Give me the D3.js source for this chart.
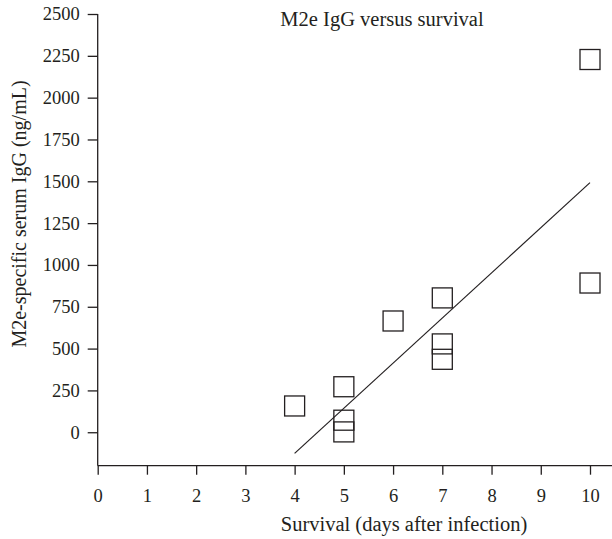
<!DOCTYPE html>
<html><head><meta charset="utf-8">
<script src="https://cdn.jsdelivr.net/npm/d3@7"></script>
<style>body{margin:0;background:#fff}svg text{font-family:"Liberation Serif","DejaVu Serif",serif !important;fill:#231f20}</style>
</head><body>
<svg id="c" width="612" height="539"></svg>
<script>
const survivalDays = [4, 5, 5, 5, 6, 7, 7, 7, 10, 10];
const iggValues = [157, 272, 72, 2, 665, 803, 528, 436, 2228, 892];
const fitLine = [{x: 4, y: -126}, {x: 10, y: 1492}];
const xTicks = [0,1,2,3,4,5,6,7,8,9,10];
const yTicks = [0,250,500,750,1000,1250,1500,1750,2000,2250,2500];

const svg = d3.select("#c");
const x = d3.scaleLinear().domain([0, 10]).range([97.7, 590]);
const y = d3.scaleLinear().domain([-200, 2500]).range([465.7, 14]);
const col = "#231f20";

const xa = svg.append("g").attr("transform", `translate(0,${y(-200)})`)
  .call(d3.axisBottom(x).tickValues(xTicks).tickFormat(d3.format("d")).tickSize(9).tickPadding(14).tickSizeOuter(0));
xa.select(".domain").attr("d", `M${x(0)},0H612`);
const ya = svg.append("g").attr("transform", `translate(${x(0)},0)`)
  .call(d3.axisLeft(y).tickValues(yTicks).tickFormat(d3.format("d")).tickSize(10).tickPadding(8).tickSizeOuter(0));
ya.select(".domain").attr("d", `M0,${y(2500)}V${y(-200)}`);
svg.selectAll(".tick line, .domain").attr("stroke", col).attr("stroke-width", 1.3);
svg.selectAll(".tick text").style("font-size", "18.5px").attr("fill", col);

const s = 20;
svg.append("g").selectAll("rect").data(survivalDays).join("rect")
  .attr("x", (d) => x(d) - s/2).attr("y", (d, i) => y(iggValues[i]) - s/2)
  .attr("width", s).attr("height", s)
  .attr("fill", "none").attr("stroke", col).attr("stroke-width", 1.3);

svg.append("path").datum(fitLine)
  .attr("d", d3.line().x(d => x(d.x)).y(d => y(d.y)))
  .attr("fill", "none").attr("stroke", col).attr("stroke-width", 1.2);

svg.append("text").attr("x", 382).attr("y", 26).attr("text-anchor", "middle").style("font-size", "20.5px").text("M2e IgG versus survival");
svg.append("text").attr("x", 404).attr("y", 531).attr("text-anchor", "middle").style("font-size", "20.5px").text("Survival (days after infection)");
svg.append("text").attr("transform", "translate(26,214) rotate(-90)").attr("text-anchor", "middle").style("font-size", "20px").text("M2e-specific serum IgG (ng/mL)");
</script>
</body></html>
